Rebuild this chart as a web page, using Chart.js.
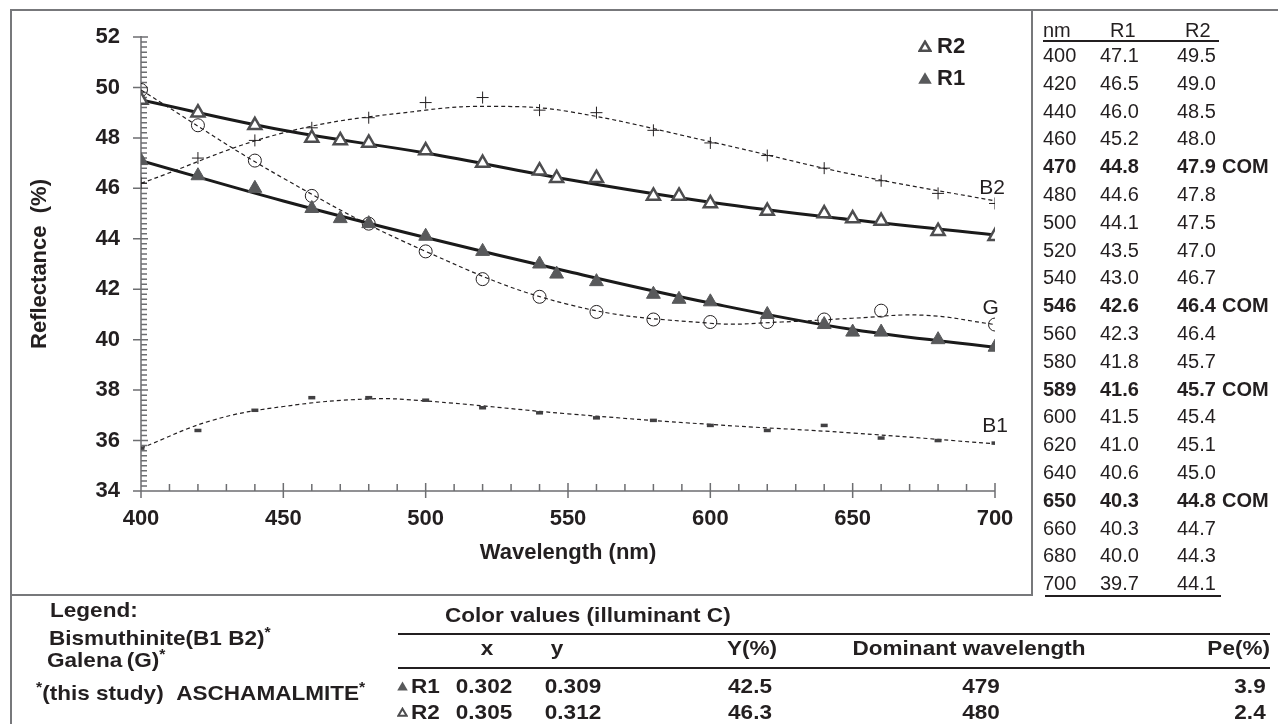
<!DOCTYPE html>
<html>
<head>
<meta charset="utf-8">
<title>Aschamalmite reflectance</title>
<script src="https://cdn.jsdelivr.net/npm/chart.js@4.4.1/dist/chart.umd.min.js"></script>
<style>
  body { margin: 0; background: #fff; }
  #page { position: relative; width: 1278px; height: 724px; overflow: hidden;
          font-family: "Liberation Sans", Arial, sans-serif; color: #231f20; }
  #MyChart { position: absolute; left: 0; top: 0; }
  .ln { position: absolute; background: #77787b; }
  .dk { background: #231f20; }
  .t { position: absolute; white-space: nowrap; line-height: 1; }
  .tab { font-size: 20px; }
  .bold { font-weight: bold; }
  .leg { font-size: 22px; font-weight: bold; }
  .bot { font-size: 20.5px; font-weight: bold; }
  sup { font-size: 0.7em; vertical-align: 0.55em; line-height: 0; }
</style>
</head>
<body>
<div id="page">
  <canvas id="MyChart" width="1278" height="724"></canvas>
  <!-- frame -->
  <div class="ln" style="left:11px;top:9px;width:1267px;height:2px"></div>
  <div class="ln" style="left:10px;top:9px;width:2px;height:715px"></div>
  <div class="ln" style="left:10px;top:594px;width:1023px;height:2px"></div>
  <div class="ln" style="left:1031px;top:9px;width:2px;height:587px"></div>
  <!-- right table rules -->
  <div class="ln dk" style="left:1043px;top:40px;width:176px;height:1.5px"></div>
  <div class="ln dk" style="left:1045px;top:595px;width:176px;height:1.5px"></div>
  <!-- colour table rules -->
  <div class="ln dk" style="left:398px;top:633px;width:872px;height:1.5px"></div>
  <div class="ln dk" style="left:398px;top:667px;width:872px;height:1.5px"></div>
</div>
<script>
// reflectance data (nm, %)
const wavelengths = [400, 420, 440, 460, 470, 480, 500, 520, 540, 546, 560, 580, 589, 600, 620, 640, 650, 660, 680, 700];
const r1 = [47.1, 46.5, 46.0, 45.2, 44.8, 44.6, 44.1, 43.5, 43.0, 42.6, 42.3, 41.8, 41.6, 41.5, 41.0, 40.6, 40.3, 40.3, 40.0, 39.7];
const r2 = [49.5, 49.0, 48.5, 48.0, 47.9, 47.8, 47.5, 47.0, 46.7, 46.4, 46.4, 45.7, 45.7, 45.4, 45.1, 45.0, 44.8, 44.7, 44.3, 44.1];
const comRows = [470, 546, 589, 650];

// reference minerals
const bWave = [400, 420, 440, 460, 480, 500, 520, 540, 560, 580, 600, 620, 640, 660, 680, 700];
const b1 = [35.7, 36.4, 37.2, 37.7, 37.7, 37.6, 37.3, 37.1, 36.9, 36.8, 36.6, 36.4, 36.6, 36.1, 36.0, 35.9];
const b2 = [46.2, 47.2, 47.9, 48.4, 48.8, 49.4, 49.6, 49.1, 49.0, 48.3, 47.8, 47.3, 46.8, 46.3, 45.8, 45.4];
const gWave = [400, 420, 440, 460, 480, 500, 520, 540, 560, 580, 600, 620, 640, 660, 700];
const galena = [49.9, 48.5, 47.1, 45.7, 44.6, 43.5, 42.4, 41.7, 41.1, 40.8, 40.7, 40.7, 40.8, 41.15, 40.6];

// fitted curves
const fitWave = [400, 450, 500, 550, 600, 650, 700];
const r1Fit = [47.1, 45.5, 44.05, 42.7, 41.45, 40.4, 39.7];
const r2Fit = [49.5, 48.3, 47.4, 46.35, 45.45, 44.75, 44.15];
const b2FitWave = [400, 450, 500, 525, 550, 600, 650, 700];
const b2Fit = [46.2, 48.2, 49.1, 49.25, 49.05, 47.85, 46.55, 45.5];
const gFitWave = [400, 450, 500, 550, 600, 625, 650, 675, 700];
const gFit = [49.9, 46.4, 43.5, 41.4, 40.65, 40.7, 40.85, 40.97, 40.6];
const b1FitWave = [400, 425, 450, 480, 500, 550, 600, 650, 700];
const b1Fit = [35.7, 36.8, 37.35, 37.65, 37.57, 37.06, 36.64, 36.3, 35.87];

// axis
const xMin = 400, xMax = 700, xStep = 50;
const yMin = 34, yMax = 52, yStep = 2;

// colour values (illuminant C)
const colorRows = ['R1', 'R2'];
const colorX = ['0.302', '0.305'];
const colorY = ['0.309', '0.312'];
const lumY = ['42.5', '46.3'];
const domWave = ['479', '480'];
const purity = ['3.9', '2.4'];

const ink = '#231f20';
const fam = '"Liberation Sans", Arial, sans-serif';
const page = document.getElementById('page');

function pts(xs, ys) {
    return xs.map(function (x, i) { return { x: x, y: ys[i] }; });
}

// absolutely placed text; y is the vertical centre, stretch widens the glyphs
function txt(x, y, s, cls, align, stretch) {
    var d = document.createElement('div');
    d.className = 't ' + (cls || '');
    d.innerHTML = s;
    d.style.left = x + 'px';
    d.style.top = y + 'px';
    var tx = align === 'center' ? '-50%' : (align === 'right' ? '-100%' : '0');
    d.style.transformOrigin = align === 'center' ? 'center' : (align === 'right' ? 'right' : 'left');
    d.style.transform = 'translate(' + tx + ',-50%)' + (stretch ? ' scaleX(' + stretch + ')' : '');
    page.appendChild(d);
    return d;
}

function bot(x, y, s, align) {
    return txt(x, y, s, 'bot', align, 1.1);
}

function tri(x, y, filled, size) {
    var s = size || 12;
    var h = Math.round(s * 0.9);
    var svg = '<svg width="' + s + '" height="' + h + '" viewBox="0 0 12 11">' +
        (filled ? '<polygon points="6,0.5 11.8,10.5 0.2,10.5" fill="#58595b"/>'
                : '<polygon points="6,1.8 10.6,9.6 1.4,9.6" fill="none" stroke="#4d4d4f" stroke-width="2.2"/>') +
        '</svg>';
    var d = txt(x, y, svg, '', 'left');
    d.style.lineHeight = '0';
    return d;
}

// ticks drawn the way the original axes look: minor ticks inside, major ticks crossing
const axisTicks = {
    id: 'axisTicks',
    beforeDatasetsDraw: function (chart) {
        var c = chart.ctx, x = chart.scales.x, y = chart.scales.y, a = chart.chartArea;
        c.save();
        c.strokeStyle = '#6d6e71';
        c.lineWidth = 1.5;
        c.beginPath();
        c.moveTo(a.left, a.top - 1);
        c.lineTo(a.left, a.bottom);
        c.lineTo(a.right, a.bottom);
        for (var i = 0; i <= (yMax - yMin) * 5; i++) {
            var py = y.getPixelForValue(yMin + i / 5);
            if (i % 10 === 0) { c.moveTo(a.left - 8, py); c.lineTo(a.left + 7, py); }
            else { c.moveTo(a.left, py); c.lineTo(a.left + 6, py); }
        }
        for (var w = xMin; w <= xMax; w += 10) {
            var px = x.getPixelForValue(w);
            if ((w - xMin) % xStep === 0) { c.moveTo(px, a.bottom + 7); c.lineTo(px, a.bottom - 8); }
            else { c.moveTo(px, a.bottom); c.lineTo(px, a.bottom - 7); }
        }
        c.stroke();
        c.restore();
    }
};

// curve names at the right end of each reference curve
const curveNames = [
    { text: 'B2', x: 699, y: 46.0 },
    { text: 'G', x: 698.5, y: 41.25 },
    { text: 'B1', x: 700, y: 36.55 }
];
const curveLabels = {
    id: 'curveLabels',
    afterDatasetsDraw: function (chart) {
        var c = chart.ctx, x = chart.scales.x, y = chart.scales.y;
        c.save();
        c.fillStyle = ink;
        c.font = '21px ' + fam;
        c.textAlign = 'center';
        c.textBaseline = 'middle';
        curveNames.forEach(function (n) {
            c.fillText(n.text, x.getPixelForValue(n.x), y.getPixelForValue(n.y));
        });
        c.restore();
    }
};

const tickFont = { family: fam, size: 22, weight: 'bold' };

function fitLine(label, xs, ys, color, width, dash) {
    return {
        label: label, data: pts(xs, ys), showLine: true, pointRadius: 0,
        borderColor: color, borderWidth: width, borderDash: dash || [],
        tension: 0.4, fill: false, order: 2
    };
}

var ctx = document.getElementById('MyChart').getContext('2d');
var MyChart = new Chart(ctx, {
    type: 'scatter',
    data: {
        datasets: [
            { label: 'R1', data: pts(wavelengths, r1), pointStyle: 'triangle', pointRadius: 8,
              backgroundColor: '#58595b', borderColor: '#58595b', borderWidth: 1, order: 1 },
            { label: 'R2', data: pts(wavelengths, r2), pointStyle: 'triangle', pointRadius: 7.5,
              backgroundColor: '#ffffff', borderColor: '#4d4d4f', borderWidth: 2.5, order: 1 },
            { label: 'G', data: pts(gWave, galena), pointStyle: 'circle', pointRadius: 6.5,
              backgroundColor: 'rgba(0,0,0,0)', borderColor: ink, borderWidth: 1, order: 1 },
            { label: 'B2', data: pts(bWave, b2), pointStyle: 'cross', pointRadius: 6,
              borderColor: ink, borderWidth: 1, order: 1 },
            { label: 'B1', data: pts(bWave, b1), pointStyle: 'line', pointRadius: 3.5,
              borderColor: '#414042', borderWidth: 3.5, order: 1 },
            fitLine('R1 fit', fitWave, r1Fit, '#1a1a1a', 3),
            fitLine('R2 fit', fitWave, r2Fit, '#1a1a1a', 3),
            fitLine('G fit', gFitWave, gFit, ink, 1.2, [4, 3]),
            fitLine('B2 fit', b2FitWave, b2Fit, ink, 1.2, [4, 3]),
            fitLine('B1 fit', b1FitWave, b1Fit, ink, 1.2, [4, 3])
        ]
    },
    options: {
        responsive: false,
        animation: false,
        events: [],
        layout: { padding: { left: 0, top: 37, right: 283, bottom: 153 } },
        plugins: { legend: { display: false }, tooltip: { enabled: false } },
        scales: {
            x: {
                type: 'linear', min: xMin, max: xMax,
                ticks: { stepSize: xStep, padding: 15, color: ink, font: tickFont },
                grid: { display: false, drawTicks: false },
                border: { display: false },
                title: { display: true, text: 'Wavelength (nm)', color: ink, font: tickFont,
                         padding: { top: 0, bottom: 5 } },
                afterFit: function (s) { s.height = 80; }
            },
            y: {
                min: yMin, max: yMax,
                ticks: { stepSize: yStep, padding: 21, color: ink, font: tickFont },
                grid: { display: false, drawTicks: false },
                border: { display: false },
                title: { display: true, text: 'Reflectance  (%)', color: ink, font: tickFont,
                         padding: { top: 27, bottom: 0 } },
                afterFit: function (s) { s.width = 141; }
            }
        }
    },
    plugins: [axisTicks, curveLabels]
});

// in-plot legend
tri(918, 46, false, 14);
txt(937, 46, 'R2', 'leg');
tri(918, 78, true, 14);
txt(937, 78, 'R1', 'leg');

// right-hand data table
txt(1043, 30, 'nm', 'tab');
txt(1110, 30, 'R1', 'tab');
txt(1185, 30, 'R2', 'tab');
wavelengths.forEach(function (w, i) {
    var yy = 55 + i * 27.8;
    var cls = 'tab' + (comRows.indexOf(w) >= 0 ? ' bold' : '');
    txt(1043, yy, String(w), cls);
    txt(1100, yy, r1[i].toFixed(1), cls);
    txt(1177, yy, r2[i].toFixed(1), cls);
    if (comRows.indexOf(w) >= 0) txt(1222, yy, 'COM', cls);
});

// bottom-left legend
bot(50, 610, 'Legend:');
bot(49, 638, 'Bismuthinite(B1 B2)<sup>*</sup>');
bot(47, 660, 'Galena&thinsp;(G)<sup>*</sup>');
bot(36, 693, '<sup>*</sup>(this study)&nbsp;&nbsp;ASCHAMALMITE<sup>*</sup>');

// colour values table
bot(445, 615, 'Color values (illuminant C)');
bot(487, 648, 'x', 'center');
bot(557, 648, 'y', 'center');
bot(752, 648, 'Y(%)', 'center');
bot(969, 648, 'Dominant wavelength', 'center');
bot(1270, 648, 'Pe(%)', 'right');
colorRows.forEach(function (r, i) {
    var yy = 686 + i * 26;
    tri(397, yy, i === 0, 11);
    bot(411, yy, r);
    bot(484, yy, colorX[i], 'center');
    bot(573, yy, colorY[i], 'center');
    bot(750, yy, lumY[i], 'center');
    bot(981, yy, domWave[i], 'center');
    bot(1250, yy, purity[i], 'center');
});
</script>
</body>
</html>
